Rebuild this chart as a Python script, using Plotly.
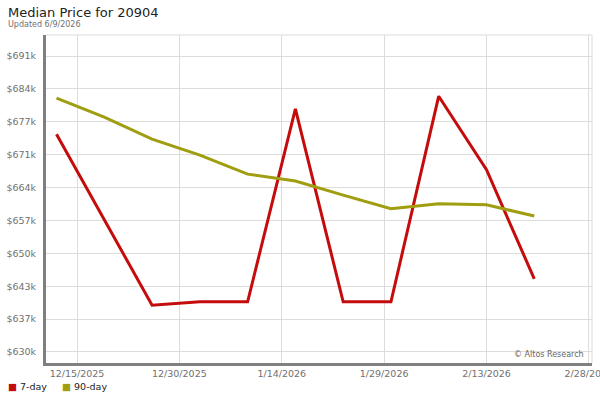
import plotly.graph_objects as go

# ---- data ----
dates = ["2025-12-12", "2025-12-19", "2025-12-26", "2026-01-02", "2026-01-09",
         "2026-01-16", "2026-01-23", "2026-01-30", "2026-02-06", "2026-02-13",
         "2026-02-20"]
price_7day = [674700, 657300, 639600, 640300, 640300, 679900, 640300, 640300,
              682500, 667400, 645000]
price_90day = [682100, 678200, 673700, 670400, 666500, 665100, 662200, 659400,
               660400, 660200, 657900]

y_tickvals = [630000, 636750, 643500, 650250, 657000, 663750, 670500, 677250,
              684000, 690750]
y_ticktext = ["$630k", "$637k", "$643k", "$650k", "$657k", "$664k", "$671k",
              "$677k", "$684k", "$691k"]
x_tickvals = ["2025-12-15", "2025-12-30", "2026-01-14", "2026-01-29",
              "2026-02-13", "2026-02-28"]

series_names = ["7-day", "90-day"]
colors = ["#c40c0c", "#a09e10"]

FONT = "DejaVu Sans"
L, R, T, B = 46, 8, 35, 37
PW, PH = 600 - L - R, 400 - T - B

fig = go.Figure()
for name, vals, col in zip(series_names, [price_7day, price_90day], colors):
    fig.add_trace(go.Scatter(x=dates, y=vals, mode="lines", name=name,
                             line=dict(color=col, width=3), showlegend=False,
                             hoverinfo="x+y"))

legend_html = "&nbsp;&nbsp;&nbsp;&nbsp;&nbsp;".join(
    f'<span style="color:{c}">■</span> {n}' for n, c in zip(series_names, colors))

fig.update_layout(
    width=600, height=400,
    margin=dict(l=L, r=R, t=T, b=B, autoexpand=False),
    paper_bgcolor="white", plot_bgcolor="white",
    font=dict(family=FONT, size=10, color="#222"),
    showlegend=False,
    xaxis=dict(type="date", range=["2025-12-10 11:00", "2026-02-28 11:00"],
               tickvals=x_tickvals, tickformat="%-m/%-d/%Y",
               showgrid=True, gridcolor="#dcdcdc", gridwidth=1,
               showline=True, linecolor="#808080", linewidth=3,
               ticks="", ticklabeloverflow="allow", automargin=False,
               tickfont=dict(family=FONT, size=9.5, color="#707070"),
               zeroline=False, fixedrange=True),
    yaxis=dict(range=[627740, 695060], tickvals=y_tickvals, ticktext=y_ticktext,
               showgrid=True, gridcolor="#dcdcdc", gridwidth=1,
               showline=True, linecolor="#808080", linewidth=3,
               ticks="", ticklabelstandoff=5, automargin=False,
               tickfont=dict(family=FONT, size=9.5, color="#707070"),
               zeroline=False, fixedrange=True),
    shapes=[
        dict(type="line", xref="paper", yref="paper", x0=0, x1=1, y0=1, y1=1,
             line=dict(color="#dcdcdc", width=1)),
        dict(type="line", xref="paper", yref="paper", x0=1, x1=1, y0=0, y1=1,
             line=dict(color="#dcdcdc", width=1)),
    ],
    annotations=[
        dict(text="Median Price for 20904", xref="paper", yref="paper",
             x=-(L - 6) / PW, y=1 + 22 / PH, xanchor="left", yanchor="middle",
             showarrow=False, font=dict(family=FONT, size=13, color="#222")),
        dict(text="Updated 6/9/2026", xref="paper", yref="paper",
             x=-(L - 6) / PW, y=1 + 10 / PH, xanchor="left", yanchor="middle",
             showarrow=False, font=dict(family=FONT, size=8, color="#707070")),
        dict(text="© Altos Research", xref="paper", yref="paper",
             x=1 - 6 / PW, y=9 / PH, xanchor="right", yanchor="middle",
             showarrow=False, font=dict(family=FONT, size=8, color="#666")),
        dict(text=legend_html, xref="paper", yref="paper",
             x=-(L - 6) / PW, y=-(386 - (400 - B)) / PH, xanchor="left",
             yanchor="middle", showarrow=False,
             font=dict(family=FONT, size=9.5, color="#222")),
    ],
)

fig.write_html("out.html",
               config={"displayModeBar": False},
               post_script="document.body.style.margin='0';"
                           "document.body.style.overflow='hidden';")
